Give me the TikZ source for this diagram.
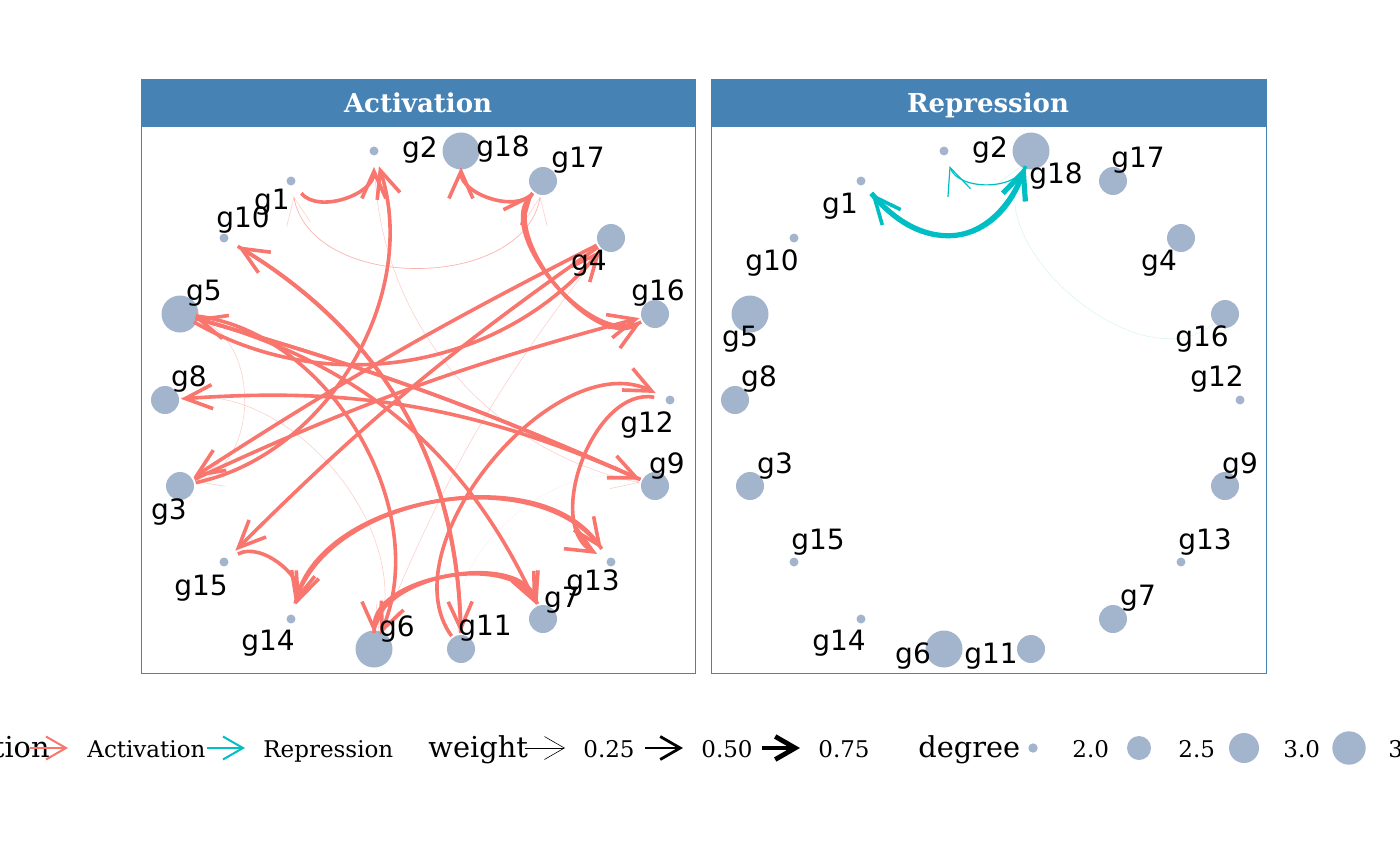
\documentclass[tikz,border=0pt]{standalone}
\usepackage{fontspec}
\setmainfont{DejaVu Serif}
\setsansfont{DejaVu Sans}
\usepackage{tikz}
\usetikzlibrary{arrows.meta}
\definecolor{act}{HTML}{F8766D}
\definecolor{rep}{HTML}{00BFC4}
\definecolor{nodeblue}{HTML}{A2B5CD}
\definecolor{strip}{HTML}{4682B4}
\tikzstyle{gene}=[circle, fill=nodeblue, inner sep=0pt]
\tikzstyle{degA}=[gene, minimum size=4.5pt]
\tikzstyle{degB}=[gene, minimum size=14pt]
\tikzstyle{degC}=[gene, minimum size=18.5pt]
\tikzstyle{glabel}=[font=\sffamily\fontsize{14}{14}\selectfont, inner sep=0pt]
\tikzstyle{regedge}=[-{Straight Barb[length=13.5pt,width=12pt]}, line width=1.8pt, shorten <=8pt, shorten >=8pt]
\tikzstyle{actedge}=[regedge, draw=act]
\tikzstyle{repedge}=[regedge, draw=rep]
\tikzstyle{lowwt}=[line width=0.3pt, draw opacity=0.35]
\tikzstyle{legarrow}=[-{Straight Barb[length=10pt,width=11.5pt]}]
\tikzstyle{legtitle}=[anchor=base west, inner sep=0pt, font=\fontsize{14.4}{14.4}\selectfont]
\tikzstyle{leglabel}=[anchor=base west, inner sep=0pt, font=\fontsize{11.5}{11.5}\selectfont]
\tikzstyle{header}=[anchor=base, inner sep=0pt, text=white, font=\bfseries\fontsize{13}{13}\selectfont]
\newcommand{\gene}{\node[gene]}

\begin{document}
\begin{tikzpicture}[x=0.5pt, y=-0.5pt]
\useasboundingbox (0,0) rectangle (1400,866);

% panels
\fill[strip] (141,80) rectangle (695,127);
\draw[strip, line width=0.5pt] (141,80) rectangle (695,673);
\node[header] (hact) at (418,113) {Activation};
\fill[strip] (711,80) rectangle (1266,127);
\draw[strip, line width=0.5pt] (711,80) rectangle (1266,673);
\node[header] (hrep) at (988,113) {Repression};

% Activation genes
\gene[degA] (g1) at (291,181) {};
\gene[degA] (g2) at (374,151) {};
\gene[degB] (g3) at (180,486) {};
\gene[degB] (g4) at (611,238) {};
\gene[degC] (g5) at (180,314) {};
\gene[degC] (g6) at (374,649) {};
\gene[degB] (g7) at (543,619) {};
\gene[degB] (g8) at (165,400) {};
\gene[degB] (g9) at (655,486) {};
\gene[degA] (g10) at (224,238) {};
\gene[degB] (g11) at (461,649) {};
\gene[degA] (g12) at (670,400) {};
\gene[degA] (g13) at (611,562) {};
\gene[degA] (g14) at (291,619) {};
\gene[degA] (g15) at (224,562) {};
\gene[degB] (g16) at (655,314) {};
\gene[degB] (g17) at (543,181) {};
\gene[degC] (g18) at (461,151) {};

% Repression genes
\gene[degA] (r1) at (861,181) {};
\gene[degA] (r2) at (944,151) {};
\gene[degB] (r3) at (750,486) {};
\gene[degB] (r4) at (1181,238) {};
\gene[degC] (r5) at (750,314) {};
\gene[degC] (r6) at (944,649) {};
\gene[degB] (r7) at (1113,619) {};
\gene[degB] (r8) at (735,400) {};
\gene[degB] (r9) at (1225,486) {};
\gene[degA] (r10) at (794,238) {};
\gene[degB] (r11) at (1031,649) {};
\gene[degA] (r12) at (1240,400) {};
\gene[degA] (r13) at (1181,562) {};
\gene[degA] (r14) at (861,619) {};
\gene[degA] (r15) at (794,562) {};
\gene[degB] (r16) at (1225,314) {};
\gene[degB] (r17) at (1113,181) {};
\gene[degC] (r18) at (1031,151) {};

% activation edges
\path[every edge/.style={draw, actedge}]
    (g1.center) edge[bend right=70, looseness=1.25] (g2.center)
    (g3.center) edge[bend right=48] (g2.center)
    (g17.center) edge[bend left=70, looseness=1.25] (g18.center)
    (g16.center) edge[bend left=80, looseness=1.05] (g17.center)
    (g17.center) edge[bend right=80, looseness=1.05] (g16.center)
    (g5.center) edge[bend right=40] (g4.center)
    (g4.center) edge[bend right=3] (g3.center)
    (g4.center) edge[bend right=5] (g15.center)
    (g3.center) edge[bend left=5] (g16.center)
    (g9.center) edge[bend right=14] (g8.center)
    (g5.center) edge[bend left=4] (g9.center)
    (g9.center) edge[bend right=4] (g5.center)
    (g5.center) edge[bend left=25] (g7.center)
    (g10.center) edge[bend left=29] (g11.center)
    (g11.center) edge[bend right=29] (g10.center)
    (g5.center) edge[bend left=53] (g6.center)
    (g11.center) edge[bend left=76] (g12.center)
    (g12.center) edge[bend right=80, looseness=1.15] (g13.center)
    (g15.center) edge[bend left=70, looseness=1.25] (g14.center)
    (g14.center) edge[bend left=65] (g13.center)
    (g13.center) edge[bend right=65] (g14.center)
    (g6.center) edge[bend left=80, looseness=1.1] (g7.center)
    (g7.center) edge[bend right=80, looseness=1.1] (g6.center)
;
\path[every edge/.style={draw, actedge, lowwt}]
    (g1.center) edge[bend right=80, looseness=1.15] (g17.center)
    (g17.center) edge[bend left=80, looseness=1.15] (g1.center)
    (g5.center) edge[bend left=75, looseness=1.25] (g3.center)
    (g2.center) edge[bend right=38] (g9.center)
    (g4.center) edge[bend right=8] (g6.center)
    (g8.center) edge[bend left=58] (g6.center)
    (g9.center) edge[bend right=60, draw opacity=0.1] (g11.center)
;

% repression edges
\path[every edge/.style={draw, repedge}]
    (r1.center) edge[bend right=60, looseness=1.5, line width=2.6pt] (r18.center)
    (r18.center) edge[bend left=60, looseness=1.5] (r1.center)
    (r18.center) edge[bend left=70, looseness=1.25, line width=0.6pt] (r2.center)
    (r16.center) edge[bend left=80, looseness=1.1, lowwt, draw opacity=0.15] (r18.center)
;

% gene labels
\node[glabel] (t1) at (272,202) {g1};
\node[glabel] (t2) at (420,150) {g2};
\node[glabel] (t3) at (169,512) {g3};
\node[glabel] (t4) at (589,263) {g4};
\node[glabel] (t5) at (204,293) {g5};
\node[glabel] (t6) at (397,629) {g6};
\node[glabel] (t7) at (562,600) {g7};
\node[glabel] (t8) at (189,379) {g8};
\node[glabel] (t9) at (667,466) {g9};
\node[glabel] (t10) at (243,220) {g10};
\node[glabel] (t11) at (485,628) {g11};
\node[glabel] (t12) at (647,425) {g12};
\node[glabel] (t13) at (593,583) {g13};
\node[glabel] (t14) at (268,643) {g14};
\node[glabel] (t15) at (201,588) {g15};
\node[glabel] (t16) at (658,293) {g16};
\node[glabel] (t17) at (578,160) {g17};
\node[glabel] (t18) at (503,149) {g18};

\node[glabel] (s1) at (840,206) {g1};
\node[glabel] (s2) at (990,150) {g2};
\node[glabel] (s3) at (775,466) {g3};
\node[glabel] (s4) at (1159,263) {g4};
\node[glabel] (s5) at (740,339) {g5};
\node[glabel] (s6) at (913,656) {g6};
\node[glabel] (s7) at (1138,598) {g7};
\node[glabel] (s8) at (759,379) {g8};
\node[glabel] (s9) at (1240,466) {g9};
\node[glabel] (s10) at (772,263) {g10};
\node[glabel] (s11) at (991,656) {g11};
\node[glabel] (s12) at (1217,379) {g12};
\node[glabel] (s13) at (1205,542) {g13};
\node[glabel] (s14) at (839,643) {g14};
\node[glabel] (s15) at (818,542) {g15};
\node[glabel] (s16) at (1202,339) {g16};
\node[glabel] (s17) at (1138,160) {g17};
\node[glabel] (s18) at (1056,176) {g18};

% legend
\node[legtitle, anchor=base east] (ltype) at (50,757) {tion};
\coordinate (ka1) at (30,748);
\coordinate (ka2) at (68,748);
\draw[legarrow, act, line width=1pt] (ka1) -- (ka2);
\node[leglabel] (lact) at (87,757) {Activation};
\coordinate (kr1) at (207,748);
\coordinate (kr2) at (245,748);
\draw[legarrow, rep, line width=1pt] (kr1) -- (kr2);
\node[leglabel] (lrep) at (263,757) {Repression};

\node[legtitle] (lwt) at (428,757) {weight};
\coordinate (kw1) at (525,748);
\coordinate (kw2) at (565,748);
\draw[legarrow, line width=0.3pt] (kw1) -- (kw2);
\node[leglabel] (lw1) at (583,757) {0.25};
\coordinate (kw3) at (645,748);
\coordinate (kw4) at (683,748);
\draw[legarrow, line width=1.4pt] (kw3) -- (kw4);
\node[leglabel] (lw2) at (701,757) {0.50};
\coordinate (kw5) at (762,748);
\coordinate (kw6) at (800,748);
\draw[legarrow, line width=2.4pt] (kw5) -- (kw6);
\node[leglabel] (lw3) at (818,757) {0.75};

\node[legtitle] (ldeg) at (918,757) {degree};
\gene[minimum size=4.7pt] (kd1) at (1033,748) {};
\node[leglabel] (ld1) at (1072,757) {2.0};
\gene[minimum size=12pt] (kd2) at (1139,748) {};
\node[leglabel] (ld2) at (1178,757) {2.5};
\gene[minimum size=15pt] (kd3) at (1244,748) {};
\node[leglabel] (ld3) at (1283,757) {3.0};
\gene[minimum size=16.7pt] (kd4) at (1349,748) {};
\node[leglabel] (ld4) at (1388,757) {3};
\end{tikzpicture}
\end{document}
